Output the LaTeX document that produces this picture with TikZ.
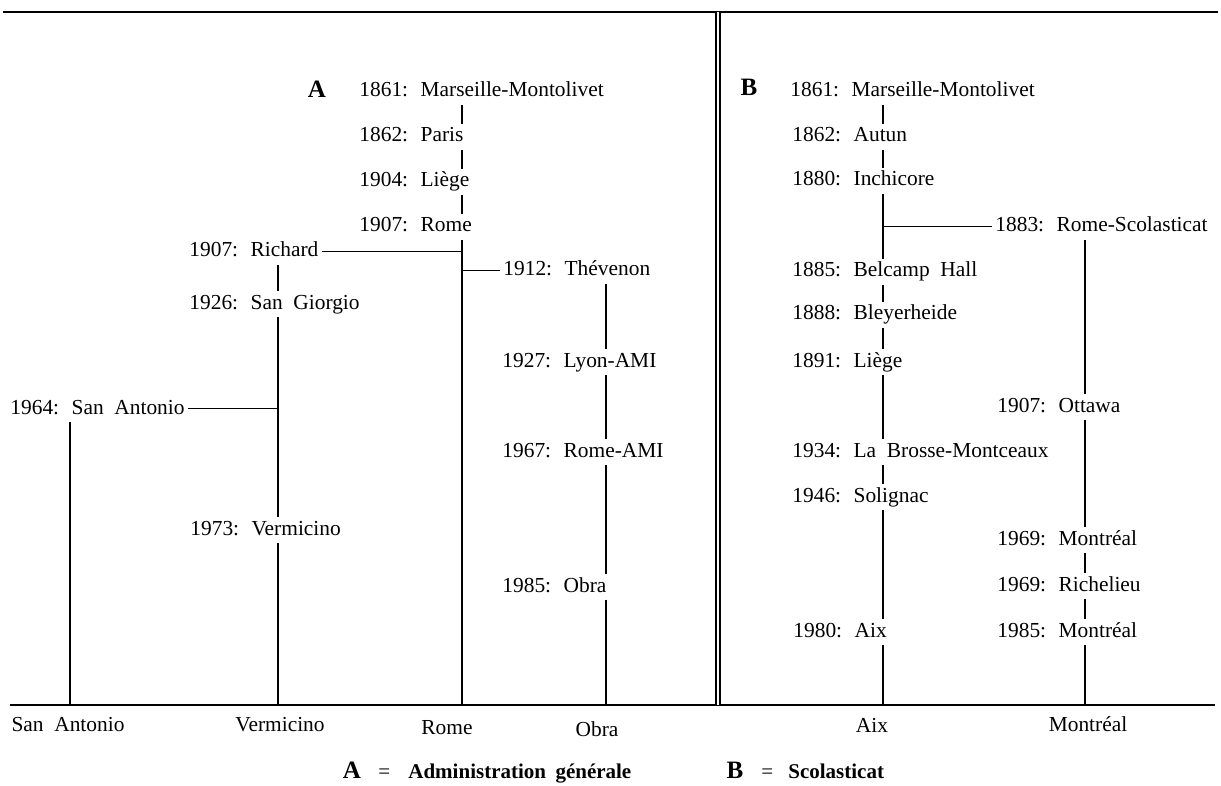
\documentclass[tikz,border=0pt]{standalone}
\usepackage{fontspec}
\setmainfont{Liberation Serif}
\newcommand\entfont{\fontsize{10.7}{13}\selectfont\spaceskip=0.5em plus 0.1em\relax}
\newcommand\keyfont{\fontsize{10.5}{13}\selectfont\bfseries\spaceskip=0.45em plus 0.1em\relax}

\begin{document}
\begin{tikzpicture}[
  x=0.5pt, y=-0.5pt,
  ent/.style={anchor=base west,inner sep=1.5pt,text height=7.5pt,text depth=2.2pt,font=\entfont},
  foot/.style={anchor=base,inner sep=1pt,font=\entfont},
  head/.style={anchor=base,inner sep=1pt,font=\fontsize{12.5}{15}\selectfont\bfseries},
  key/.style={anchor=base west,inner sep=0pt,font=\keyfont},
  eq/.style={anchor=base west,inner sep=0pt,font=\fontsize{10.5}{13}\selectfont},
  ln/.style={line width=0.75pt},
  rule/.style={line width=1.1pt}
]
\useasboundingbox (0,0) rectangle (1221,786);

% Frame
\coordinate (tl) at (3,12);
\coordinate (tr) at (1218,12);
\coordinate (bl) at (10,705);
\coordinate (br) at (1215,705);
\coordinate (dtop) at (718,12);
\coordinate (dbot) at (718,705);
\draw[rule] (tl) -- (tr);
\draw[rule] (bl) -- (br);
\draw[ln,double,double distance=1.3pt] (dtop) -- (dbot);

% Columns on the base line
\coordinate (cSA) at (70,705);
\coordinate (cVe) at (278,705);
\coordinate (cRo) at (462,705);
\coordinate (cOb) at (606,705);
\coordinate (cAix) at (883,705);
\coordinate (cMtl) at (1085,705);

% A: Administration generale
\node[head] (hA) at (317,98) {A};
\node[ent] (mA) at (356,97) {1861: Marseille-Montolivet};
\node[ent] (paris) at (356,142) {1862: Paris};
\node[ent] (liegeA) at (356,187) {1904: Liège};
\node[ent] (romeA) at (356,232) {1907: Rome};
\node[ent] (richard) at (186,257) {1907: Richard};
\node[ent] (thev) at (500,276) {1912: Thévenon};
\node[ent] (sangi) at (186,309) {1926: San Giorgio};
\node[ent] (sanant) at (7,414) {1964: San Antonio};
\node[ent] (lyon) at (499,367) {1927: Lyon-AMI};
\node[ent] (romeami) at (499,457) {1967: Rome-AMI};
\node[ent] (verm) at (187,535) {1973: Vermicino};
\node[ent] (obra) at (499,592) {1985: Obra};

% B: Scolasticat
\node[head] (hB) at (749,96) {B};
\node[ent] (mB) at (787,97) {1861: Marseille-Montolivet};
\node[ent] (autun) at (789,142) {1862: Autun};
\node[ent] (inchi) at (789,186) {1880: Inchicore};
\node[ent] (rsc) at (992,232) {1883: Rome-Scolasticat};
\node[ent] (belc) at (789,277) {1885: Belcamp Hall};
\node[ent] (bley) at (789,320) {1888: Bleyerheide};
\node[ent] (liegeB) at (789,367) {1891: Liège};
\node[ent] (ottawa) at (994,412) {1907: Ottawa};
\node[ent] (labr) at (789,457) {1934: La Brosse-Montceaux};
\node[ent] (solig) at (789,502) {1946: Solignac};
\node[ent] (mtl69) at (994,545) {1969: Montréal};
\node[ent] (richel) at (994,591) {1969: Richelieu};
\node[ent] (aix) at (790,637) {1980: Aix};
\node[ent] (mtl85) at (994,637) {1985: Montréal};

% Rome
\draw[ln] (mA.south -| cRo) -- (paris.north -| cRo);
\draw[ln] (paris.south -| cRo) -- (liegeA.north -| cRo);
\draw[ln] (liegeA.south -| cRo) -- (romeA.north -| cRo);
\draw[ln] (romeA.south -| cRo) -- (cRo);
\draw[ln] (richard.east) -- (richard.east -| cRo);
\draw[ln] (thev.west -| cRo) -- (thev.west);
% Vermicino
\draw[ln] (richard.south -| cVe) -- (sangi.north -| cVe);
\draw[ln] (sangi.south -| cVe) -- (verm.north -| cVe);
\draw[ln] (verm.south -| cVe) -- (cVe);
\draw[ln] (sanant.east) -- (sanant.east -| cVe);
% San Antonio
\draw[ln] (sanant.south -| cSA) -- (cSA);
% Obra
\draw[ln] (thev.south -| cOb) -- (lyon.north -| cOb);
\draw[ln] (lyon.south -| cOb) -- (romeami.north -| cOb);
\draw[ln] (romeami.south -| cOb) -- (obra.north -| cOb);
\draw[ln] (obra.south -| cOb) -- (cOb);
% Aix
\draw[ln] (mB.south -| cAix) -- (autun.north -| cAix);
\draw[ln] (autun.south -| cAix) -- (inchi.north -| cAix);
\draw[ln] (inchi.south -| cAix) -- (belc.north -| cAix);
\draw[ln] (belc.south -| cAix) -- (bley.north -| cAix);
\draw[ln] (bley.south -| cAix) -- (liegeB.north -| cAix);
\draw[ln] (liegeB.south -| cAix) -- (labr.north -| cAix);
\draw[ln] (labr.south -| cAix) -- (solig.north -| cAix);
\draw[ln] (solig.south -| cAix) -- (aix.north -| cAix);
\draw[ln] (aix.south -| cAix) -- (cAix);
\draw[ln] (rsc.west -| cAix) -- (rsc.west);
% Montreal
\draw[ln] (rsc.south -| cMtl) -- (ottawa.north -| cMtl);
\draw[ln] (ottawa.south -| cMtl) -- (mtl69.north -| cMtl);
\draw[ln] (mtl69.south -| cMtl) -- (richel.north -| cMtl);
\draw[ln] (richel.south -| cMtl) -- (mtl85.north -| cMtl);
\draw[ln] (mtl85.south -| cMtl) -- (cMtl);

% Names under the base line
\node[foot] (fSA) at (68,731) {San Antonio};
\node[foot] (fVe) at (280,731) {Vermicino};
\node[foot] (fRo) at (447,734) {Rome};
\node[foot] (fOb) at (597,736) {Obra};
\node[foot] (fAix) at (872,732) {Aix};
\node[foot] (fMtl) at (1088,731) {Montréal};

% Key
\node[head] (kA) at (352,778) {A};
\node[eq] (kAeq) at (378,778) {=};
\node[key] (kAtxt) at (408,778) {Administration générale};
\node[head] (kB) at (735,778) {B};
\node[eq] (kBeq) at (761,778) {=};
\node[key] (kBtxt) at (788,778) {Scolasticat};
\end{tikzpicture}
\end{document}
